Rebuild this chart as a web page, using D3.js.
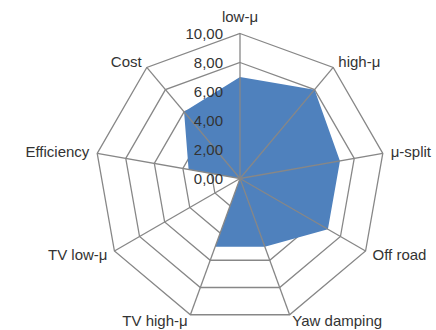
<!DOCTYPE html>
<html>
<head>
<meta charset="utf-8">
<script src="https://cdn.jsdelivr.net/npm/d3@7"></script>
<style>
  html, body { margin: 0; padding: 0; background: #fff; }
  svg text { font-family: "Liberation Sans", Arial, sans-serif; fill: #333; }
</style>
</head>
<body>
<svg id="chart" width="436" height="330"></svg>
<script>
// Axes of the radar, clockwise from the top
const categories = ["low-μ", "high-μ", "μ-split", "Off road", "Yaw damping",
                    "TV high-μ", "TV low-μ", "Efficiency", "Cost"];
// Score per axis
const scores = [7, 8, 7, 7, 5, 5, 0, 3.6, 6];
// Ring levels and their labels
const tickValues = [0, 2, 4, 6, 8, 10];

const width = 436, height = 330;
const cx = 240, cy = 178.5, R = 145;

const svg = d3.select("#chart");
const g = svg.append("g").attr("transform", `translate(${cx},${cy})`);

const r = d3.scaleLinear().domain([0, 10]).range([0, R]);
const angle = d3.scaleLinear().domain([0, categories.length]).range([0, 2 * Math.PI]);

const pt = (i, v) => {
  const a = angle(i);
  return [r(v) * Math.sin(a), -r(v) * Math.cos(a)];
};

const locale = d3.formatLocale({ decimal: ",", thousands: ".", grouping: [3], currency: ["", "€"] });
const fmt = locale.format(".2f");

const lineColor = "#878787";

// Concentric rings
const ringLine = d3.line();
g.selectAll("path.ring")
  .data(tickValues.filter(v => v > 0))
  .join("path")
  .attr("class", "ring")
  .attr("d", v => ringLine(categories.map((c, i) => pt(i, v))) + "Z")
  .attr("fill", "none")
  .attr("stroke", lineColor)
  .attr("stroke-width", 1.3);

// Data area
g.append("path")
  .attr("d", d3.line()(scores.map((v, i) => pt(i, v))) + "Z")
  .attr("fill", "#4F81BD")
  .attr("stroke", "none");

// Spokes
g.selectAll("line.spoke")
  .data(categories)
  .join("line")
  .attr("class", "spoke")
  .attr("x1", 0).attr("y1", 0)
  .attr("x2", (c, i) => pt(i, 10)[0])
  .attr("y2", (c, i) => pt(i, 10)[1])
  .attr("stroke", lineColor)
  .attr("stroke-width", 1.3);

// Ring value labels along the top spoke
g.selectAll("text.tick")
  .data(tickValues)
  .join("text")
  .attr("class", "tick")
  .attr("x", -17)
  .attr("y", v => -r(v))
  .attr("dy", "0.36em")
  .attr("text-anchor", "end")
  .attr("font-size", 15)
  .text(v => fmt(v));

// Category labels
g.selectAll("text.cat")
  .data(categories)
  .join("text")
  .attr("class", "cat")
  .each(function (c, i) {
    const a = angle(i);
    const s = Math.sin(a), co = Math.cos(a);
    const d = R + 8;
    let x = d * s, y = -d * co;
    let anchor = "middle";
    if (s > 0.1) anchor = "start";
    else if (s < -0.1) anchor = "end";
    if (Math.abs(s) < 0.1) y -= 9;
    if (co < -0.9) y -= 1.2;
    d3.select(this)
      .attr("x", x)
      .attr("y", y)
      .attr("dy", "0.36em")
      .attr("text-anchor", anchor)
      .attr("font-size", 15)
      .text(c);
  });
</script>
</body>
</html>
